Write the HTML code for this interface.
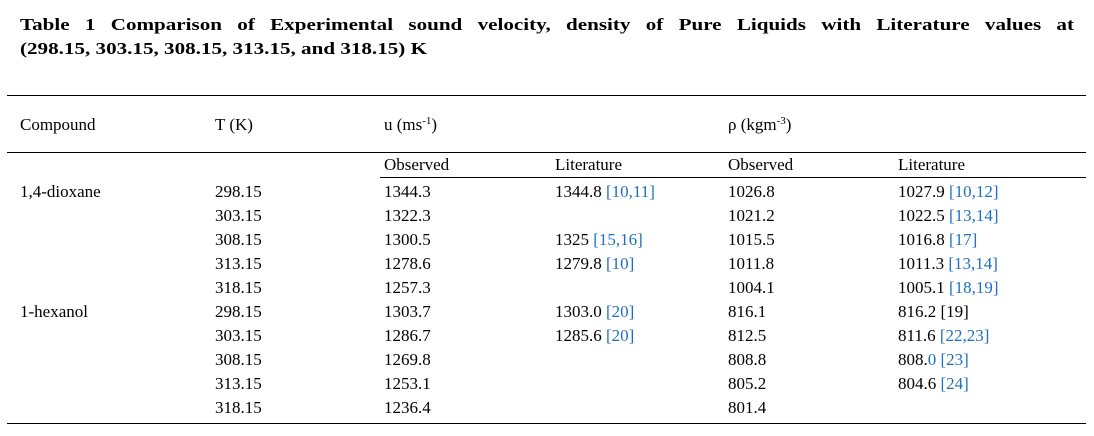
<!DOCTYPE html>
<html><head><meta charset="utf-8"><style>
body{margin:0;width:1094px;height:436px;background:#fff;font-family:"Liberation Serif",serif;color:#000;position:relative;overflow:hidden}
.t{position:absolute;font-size:17px;line-height:20px;white-space:nowrap}
.b{color:#1f6fc1}
sup{font-size:11px;line-height:0;vertical-align:6px}
.ttl{position:absolute;left:20px;width:850px;font-weight:bold;font-size:17px;line-height:25px;white-space:nowrap;transform:scaleX(1.24);transform-origin:0 0}
.ln{position:absolute;height:1px;background:#000}
</style></head><body>
<div class="ttl" style="top:12px;text-align:justify;text-align-last:justify">Table 1 Comparison of Experimental sound velocity, density of Pure Liquids with Literature values at</div>
<div class="ttl" style="top:36px">(298.15, 303.15, 308.15, 313.15, and 318.15) K</div>
<div class="ln" style="left:7px;width:1079px;top:95px"></div>
<div class="ln" style="left:7px;width:1079px;top:152px"></div>
<div class="ln" style="left:380px;width:706px;top:177px"></div>
<div class="ln" style="left:7px;width:1079px;top:423px"></div>
<div class="t" style="left:20px;top:115px">Compound</div>
<div class="t" style="left:215px;top:115px">T (K)</div>
<div class="t" style="left:384px;top:115px">u (ms<sup>-1</sup>)</div>
<div class="t" style="left:728px;top:115px">ρ (kgm<sup>-3</sup>)</div>
<div class="t" style="left:384px;top:155px">Observed</div>
<div class="t" style="left:555px;top:155px">Literature</div>
<div class="t" style="left:728px;top:155px">Observed</div>
<div class="t" style="left:898px;top:155px">Literature</div>

<div class="t" style="left:20px;top:182px">1,4-dioxane</div>
<div class="t" style="left:20px;top:302px">1-hexanol</div>

<div class="t" style="left:215px;top:182px">298.15</div>
<div class="t" style="left:215px;top:206px">303.15</div>
<div class="t" style="left:215px;top:230px">308.15</div>
<div class="t" style="left:215px;top:254px">313.15</div>
<div class="t" style="left:215px;top:278px">318.15</div>
<div class="t" style="left:215px;top:302px">298.15</div>
<div class="t" style="left:215px;top:326px">303.15</div>
<div class="t" style="left:215px;top:350px">308.15</div>
<div class="t" style="left:215px;top:374px">313.15</div>
<div class="t" style="left:215px;top:398px">318.15</div>

<div class="t" style="left:384px;top:182px">1344.3</div>
<div class="t" style="left:384px;top:206px">1322.3</div>
<div class="t" style="left:384px;top:230px">1300.5</div>
<div class="t" style="left:384px;top:254px">1278.6</div>
<div class="t" style="left:384px;top:278px">1257.3</div>
<div class="t" style="left:384px;top:302px">1303.7</div>
<div class="t" style="left:384px;top:326px">1286.7</div>
<div class="t" style="left:384px;top:350px">1269.8</div>
<div class="t" style="left:384px;top:374px">1253.1</div>
<div class="t" style="left:384px;top:398px">1236.4</div>

<div class="t" style="left:555px;top:182px">1344.8 <span class="b">[10,11]</span></div>
<div class="t" style="left:555px;top:230px">1325 <span class="b">[15,16]</span></div>
<div class="t" style="left:555px;top:254px">1279.8 <span class="b">[10]</span></div>
<div class="t" style="left:555px;top:302px">1303.0 <span class="b">[20]</span></div>
<div class="t" style="left:555px;top:326px">1285.6 <span class="b">[20]</span></div>

<div class="t" style="left:728px;top:182px">1026.8</div>
<div class="t" style="left:728px;top:206px">1021.2</div>
<div class="t" style="left:728px;top:230px">1015.5</div>
<div class="t" style="left:728px;top:254px">1011.8</div>
<div class="t" style="left:728px;top:278px">1004.1</div>
<div class="t" style="left:728px;top:302px">816.1</div>
<div class="t" style="left:728px;top:326px">812.5</div>
<div class="t" style="left:728px;top:350px">808.8</div>
<div class="t" style="left:728px;top:374px">805.2</div>
<div class="t" style="left:728px;top:398px">801.4</div>

<div class="t" style="left:898px;top:182px">1027.9 <span class="b">[10,12]</span></div>
<div class="t" style="left:898px;top:206px">1022.5 <span class="b">[13,14]</span></div>
<div class="t" style="left:898px;top:230px">1016.8 <span class="b">[17]</span></div>
<div class="t" style="left:898px;top:254px">1011.3 <span class="b">[13,14]</span></div>
<div class="t" style="left:898px;top:278px">1005.1 <span class="b">[18,19]</span></div>
<div class="t" style="left:898px;top:302px">816.2 [19]</div>
<div class="t" style="left:898px;top:326px">811.6 <span class="b">[22,23]</span></div>
<div class="t" style="left:898px;top:350px">808.<span class="b">0 [23]</span></div>
<div class="t" style="left:898px;top:374px">804.6 <span class="b">[24]</span></div>
</body></html>
